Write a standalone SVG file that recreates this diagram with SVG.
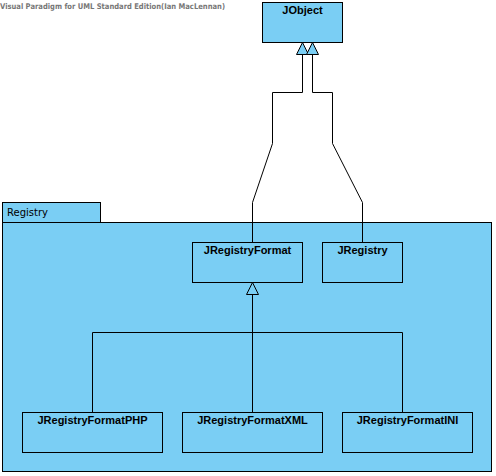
<svg xmlns="http://www.w3.org/2000/svg" width="496" height="476" viewBox="0 0 496 476">
<style>
.box{fill:#7acef4;stroke:#000;stroke-width:1}
.lbl{font-family:"Liberation Sans",Arial,sans-serif;font-weight:bold;font-size:11px;fill:#000;text-anchor:middle}
.pkg{font-family:"DejaVu Sans","Liberation Sans",sans-serif;font-size:10px;fill:#000}
.title{font-family:"DejaVu Sans","Liberation Sans",sans-serif;font-size:7.8px;font-weight:bold;fill:#777}
.ln{fill:none;stroke:#000;stroke-width:1}
.tri{fill:#7acef4;stroke:#000;stroke-width:1;stroke-linejoin:miter}
</style>
<rect width="496" height="476" fill="#fff"/>
<text class="title" x="0" y="9" textLength="225" lengthAdjust="spacingAndGlyphs">Visual Paradigm for UML Standard Edition(Ian MacLennan)</text>
<g id="pkg-Registry">
<rect class="box" x="2.5" y="202.5" width="98" height="20"/>
<rect class="box" x="2.5" y="222.5" width="489" height="249"/>
<text class="pkg" x="7" y="216">Registry</text>
</g>
<g id="JObject">
<rect class="box" x="262.5" y="2.5" width="80" height="40"/>
<text class="lbl" x="302.5" y="14">JObject</text>
</g>
<g id="JRegistryFormat">
<rect class="box" x="192.5" y="242.5" width="110" height="40"/>
<text class="lbl" x="247.5" y="254">JRegistryFormat</text>
</g>
<g id="JRegistry">
<rect class="box" x="322.5" y="242.5" width="80" height="40"/>
<text class="lbl" x="362.5" y="254">JRegistry</text>
</g>
<g id="JRegistryFormatPHP">
<rect class="box" x="22.5" y="412.5" width="140" height="40"/>
<text class="lbl" x="92.5" y="424">JRegistryFormatPHP</text>
</g>
<g id="JRegistryFormatXML">
<rect class="box" x="182.5" y="412.5" width="140" height="40"/>
<text class="lbl" x="252.5" y="424">JRegistryFormatXML</text>
</g>
<g id="JRegistryFormatINI">
<rect class="box" x="342.5" y="412.5" width="130" height="40"/>
<text class="lbl" x="407.5" y="424">JRegistryFormatINI</text>
</g>
<g id="connectors">
<polyline class="ln" points="252.5,242.5 252.5,202.5 272.5,143.5 272.5,92.5 302.5,92.5 302.5,54.5"/>
<polyline class="ln" points="362.5,242.5 362.5,202.5 332.5,143.5 332.5,92.5 312.5,92.5 312.5,54.5"/>
<polygon class="tri" points="302.5,42.5 296.5,54.5 308.5,54.5"/>
<polygon class="tri" points="312.5,42.5 306.5,54.5 318.5,54.5"/>
<polyline class="ln" points="92.5,412.5 92.5,332.5 402.5,332.5 402.5,412.5"/>
<line class="ln" x1="252.5" y1="294.5" x2="252.5" y2="412.5"/>
<polygon class="tri" points="252.5,282.5 246.5,294.5 258.5,294.5"/>
</g>
</svg>
